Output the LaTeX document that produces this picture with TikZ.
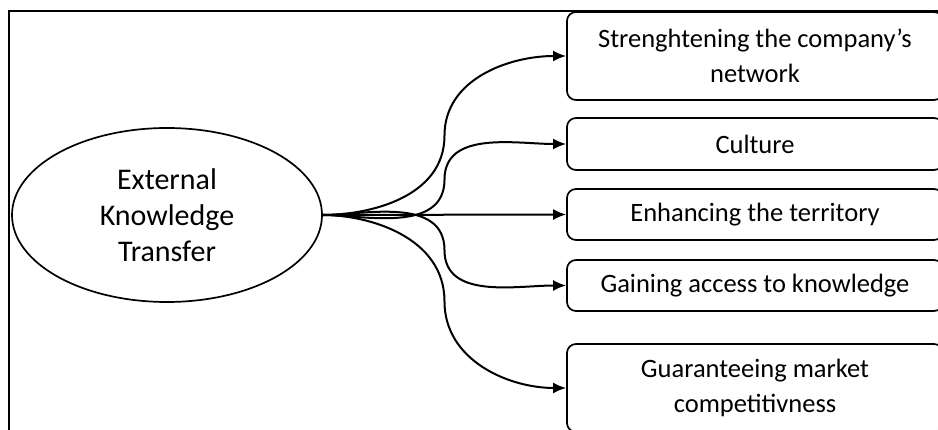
\documentclass[tikz,border=0pt]{standalone}
\usepackage{fontspec}
\setmainfont{Carlito}
\usepackage{tikz}
\usetikzlibrary{arrows.meta,shapes.geometric,calc}
\tikzset{
    sourcenode/.style={ellipse,draw,line width=1.7pt,align=center,inner sep=0pt,minimum width=310pt,minimum height=174pt,font=\fontsize{30}{36}\selectfont},
    outcome/.style={draw,line width=1.7pt,rounded corners=9pt,align=center,inner sep=0pt,minimum width=376pt,font=\fontsize{26.5}{35}\selectfont},
    flow/.style={->,line width=2pt},
    frameline/.style={line width=2pt}
}

\begin{document}
\begin{tikzpicture}[x=1pt,y=-1pt,>={Latex[length=13pt,width=11pt]}]

\clip (0,0) rectangle (938,430);

\draw[frameline] (9,450) |- (960,11);

\node[sourcenode] (EKT) at (167,215) {External\\Knowledge\\Transfer};

\node[outcome,minimum height=88pt] (NET)  at (755,56)    {Strenghtening the company’s\\network};
\node[outcome,minimum height=52pt] (CULT) at (755,144)   {Culture};
\node[outcome,minimum height=51pt] (TERR) at (755,214.5) {Enhancing the territory};
\node[outcome,minimum height=51pt] (ACC)  at (755,285.5) {Gaining access to knowledge};
\node[outcome,minimum height=88pt] (COMP) at (755,388)   {Guaranteeing market\\competitivness};

\draw[flow] (EKT.east) -- (TERR.west);
\foreach \target/\dir in {NET/90,CULT/90,ACC/-90,COMP/-90}
    \draw[flow] (EKT.east) to[out=0,in=\dir-180,out looseness=0.8,in looseness=1.1] ($(EKT.east)!0.5!(\target.west)$)
                to[out=\dir,in=180] (\target.west);

\end{tikzpicture}
\end{document}
